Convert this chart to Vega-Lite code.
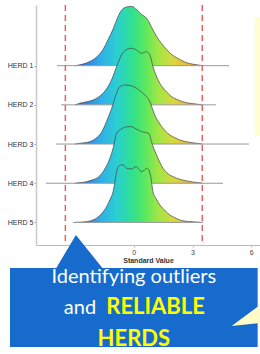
{
  "$schema": "https://vega.github.io/schema/vega-lite/v6.json",
  "width": 224,
  "height": 240,
  "autosize": {"type": "none"},
  "padding": {"left": 36, "top": 5, "right": 0, "bottom": 109},
  "background": "white",
  "config": {
    "view": {"stroke": null},
    "axis": {"grid": false, "labelFont": "Liberation Sans", "titleFont": "Liberation Sans"}
  },
  "datasets": {
    "ridges": [
      {"herd":1,"u":-3.0,"d":0},{"herd":1,"u":-2.6,"d":0.01},{"herd":1,"u":-2.24,"d":0.027},{"herd":1,"u":-1.9,"d":0.055},{"herd":1,"u":-1.58,"d":0.102},{"herd":1,"u":-1.3,"d":0.17},{"herd":1,"u":-1.07,"d":0.23},{"herd":1,"u":-0.85,"d":0.3},{"herd":1,"u":-0.71,"d":0.338},{"herd":1,"u":-0.5,"d":0.368},{"herd":1,"u":-0.3,"d":0.376},{"herd":1,"u":-0.1,"d":0.378},{"herd":1,"u":0.15,"d":0.357},{"herd":1,"u":0.41,"d":0.325},{"herd":1,"u":0.6,"d":0.31},{"herd":1,"u":0.71,"d":0.293},{"herd":1,"u":0.95,"d":0.235},{"herd":1,"u":1.17,"d":0.185},{"herd":1,"u":1.43,"d":0.14},{"herd":1,"u":1.68,"d":0.102},{"herd":1,"u":1.95,"d":0.07},{"herd":1,"u":2.19,"d":0.051},{"herd":1,"u":2.45,"d":0.033},{"herd":1,"u":2.7,"d":0.019},{"herd":1,"u":3.0,"d":0.01},{"herd":1,"u":3.21,"d":0.006},{"herd":1,"u":3.5,"d":0},
      {"herd":2,"u":-3.0,"d":0},{"herd":2,"u":-2.76,"d":0.01},{"herd":2,"u":-2.4,"d":0.02},{"herd":2,"u":-2.08,"d":0.031},{"herd":2,"u":-1.8,"d":0.05},{"herd":2,"u":-1.57,"d":0.074},{"herd":2,"u":-1.35,"d":0.11},{"herd":2,"u":-1.14,"d":0.159},{"herd":2,"u":-0.88,"d":0.244},{"herd":2,"u":-0.63,"d":0.318},{"herd":2,"u":-0.46,"d":0.346},{"herd":2,"u":-0.12,"d":0.361},{"herd":2,"u":0.14,"d":0.35},{"herd":2,"u":0.39,"d":0.329},{"herd":2,"u":0.65,"d":0.339},{"herd":2,"u":0.82,"d":0.318},{"herd":2,"u":0.98,"d":0.244},{"herd":2,"u":1.24,"d":0.159},{"herd":2,"u":1.45,"d":0.115},{"herd":2,"u":1.67,"d":0.084},{"herd":2,"u":1.9,"d":0.055},{"herd":2,"u":2.18,"d":0.036},{"herd":2,"u":2.5,"d":0.02},{"herd":2,"u":2.86,"d":0.01},{"herd":2,"u":3.2,"d":0.005},{"herd":2,"u":3.5,"d":0},
      {"herd":3,"u":-3.0,"d":0},{"herd":3,"u":-2.6,"d":0.007},{"herd":3,"u":-2.24,"d":0.015},{"herd":3,"u":-1.95,"d":0.035},{"herd":3,"u":-1.65,"d":0.075},{"herd":3,"u":-1.39,"d":0.145},{"herd":3,"u":-1.14,"d":0.225},{"herd":3,"u":-0.88,"d":0.324},{"herd":3,"u":-0.71,"d":0.366},{"herd":3,"u":-0.46,"d":0.377},{"herd":3,"u":-0.12,"d":0.371},{"herd":3,"u":0.14,"d":0.356},{"herd":3,"u":0.35,"d":0.335},{"herd":3,"u":0.56,"d":0.313},{"herd":3,"u":0.82,"d":0.27},{"herd":3,"u":1.07,"d":0.185},{"herd":3,"u":1.33,"d":0.128},{"herd":3,"u":1.6,"d":0.085},{"herd":3,"u":1.84,"d":0.058},{"herd":3,"u":2.1,"d":0.04},{"herd":3,"u":2.35,"d":0.026},{"herd":3,"u":2.8,"d":0.012},{"herd":3,"u":3.2,"d":0.005},{"herd":3,"u":3.5,"d":0},
      {"herd":4,"u":-3.0,"d":0},{"herd":4,"u":-2.7,"d":0.004},{"herd":4,"u":-2.41,"d":0.01},{"herd":4,"u":-2.15,"d":0.02},{"herd":4,"u":-1.9,"d":0.032},{"herd":4,"u":-1.57,"d":0.074},{"herd":4,"u":-1.22,"d":0.16},{"herd":4,"u":-1.06,"d":0.223},{"herd":4,"u":-0.88,"d":0.319},{"herd":4,"u":-0.71,"d":0.34},{"herd":4,"u":-0.46,"d":0.357},{"herd":4,"u":-0.29,"d":0.361},{"herd":4,"u":-0.12,"d":0.361},{"herd":4,"u":0.05,"d":0.351},{"herd":4,"u":0.22,"d":0.34},{"herd":4,"u":0.39,"d":0.329},{"herd":4,"u":0.65,"d":0.323},{"herd":4,"u":0.78,"d":0.315},{"herd":4,"u":0.9,"d":0.265},{"herd":4,"u":1.16,"d":0.181},{"herd":4,"u":1.49,"d":0.096},{"herd":4,"u":1.75,"d":0.06},{"herd":4,"u":2.01,"d":0.042},{"herd":4,"u":2.35,"d":0.025},{"herd":4,"u":2.69,"d":0.015},{"herd":4,"u":3.0,"d":0.008},{"herd":4,"u":3.37,"d":0.003},{"herd":4,"u":3.5,"d":0},
      {"herd":5,"u":-3.0,"d":0},{"herd":5,"u":-2.41,"d":0.005},{"herd":5,"u":-2.15,"d":0.013},{"herd":5,"u":-1.9,"d":0.027},{"herd":5,"u":-1.65,"d":0.055},{"herd":5,"u":-1.39,"d":0.101},{"herd":5,"u":-1.22,"d":0.145},{"herd":5,"u":-1.06,"d":0.196},{"herd":5,"u":-0.95,"d":0.27},{"herd":5,"u":-0.88,"d":0.324},{"herd":5,"u":-0.8,"d":0.356},{"herd":5,"u":-0.63,"d":0.367},{"herd":5,"u":-0.55,"d":0.367},{"herd":5,"u":-0.37,"d":0.346},{"herd":5,"u":-0.12,"d":0.341},{"herd":5,"u":0.12,"d":0.356},{"herd":5,"u":0.25,"d":0.34},{"herd":5,"u":0.39,"d":0.324},{"herd":5,"u":0.55,"d":0.335},{"herd":5,"u":0.68,"d":0.346},{"herd":5,"u":0.85,"d":0.303},{"herd":5,"u":0.98,"d":0.196},{"herd":5,"u":1.15,"d":0.15},{"herd":5,"u":1.33,"d":0.112},{"herd":5,"u":1.6,"d":0.075},{"herd":5,"u":1.84,"d":0.048},{"herd":5,"u":2.1,"d":0.03},{"herd":5,"u":2.35,"d":0.016},{"herd":5,"u":2.8,"d":0.006},{"herd":5,"u":3.2,"d":0.002},{"herd":5,"u":3.5,"d":0}
    ],
    "bases": [
      {"herd":1,"lo":-3.93,"hi":4.87},
      {"herd":2,"lo":-3.72,"hi":4.2},
      {"herd":3,"lo":-3.98,"hi":5.89},
      {"herd":4,"lo":-4.49,"hi":4.56},
      {"herd":5,"lo":-3.11,"hi":3.54}
    ],
    "limits": [{"v": -3.5}, {"v": 3.5}],
    "box": [{"x1": -6.33, "x2": 6.33, "y1": 6.163, "y2": 8.179}],
    "panel": [{"x1": 6.17, "x2": 6.8, "y1": -0.244, "y2": 2.768}],
    "pointer": [
      {"u": -4.13, "top": 6.3, "base": 6.3},
      {"u": -2.96, "top": 5.32, "base": 6.3},
      {"u": -1.38, "top": 6.3, "base": 6.3}
    ],
    "wedge": [
      {"u": 5.0, "top": 7.643, "base": 7.643},
      {"u": 6.6, "top": 7.05, "base": 7.56}
    ],
    "whiteText": [
      {"u": 0, "y": 6.545, "t": "Identifying outliers"},
      {"u": -2.75, "y": 7.337, "t": "and"}
    ],
    "yellowText": [
      {"u": 1.11, "y": 7.337, "t": "RELIABLE"},
      {"u": 0, "y": 8.153, "t": "HERDS"}
    ]
  },
  "layer": [
    {
      "layer": [
        {
          "data": {"name": "ridges"},
          "transform": [{"filter": "datum.herd == 1"}],
          "mark": {"type": "area", "interpolate": "monotone", "fill": {"gradient": "linear", "x1": 0, "y1": 0, "x2": 1, "y2": 0, "stops": [{"offset": 0, "color": "#3060d8"}, {"offset": 0.1, "color": "#3388e6"}, {"offset": 0.2, "color": "#31aeea"}, {"offset": 0.33, "color": "#2ad0d0"}, {"offset": 0.45, "color": "#30e090"}, {"offset": 0.55, "color": "#5ae860"}, {"offset": 0.65, "color": "#9fe645"}, {"offset": 0.77, "color": "#d8d83e"}, {"offset": 0.9, "color": "#e8b43a"}, {"offset": 1, "color": "#e8902e"}]}, "fillOpacity": 1, "line": {"color": "#404040", "strokeWidth": 0.7}},
          "encoding": {
            "x": {"field": "u", "type": "quantitative", "scale": {"domain": [-5, 6.45], "nice": false, "zero": false}, "axis": null},
            "y": {"field": "d", "type": "quantitative", "stack": null, "scale": {"domain": [-1.144, 0.387], "nice": false, "zero": false}, "axis": null}
          }
        },
        {
          "data": {"name": "bases"},
          "transform": [{"filter": "datum.herd == 1"}],
          "mark": {"type": "rule", "color": "#999999", "strokeWidth": 1},
          "encoding": {
            "x": {"field": "lo", "type": "quantitative", "scale": {"domain": [-5, 6.45], "nice": false, "zero": false}, "axis": null},
            "x2": {"field": "hi"},
            "y": {"datum": 0, "type": "quantitative", "scale": {"domain": [-1.144, 0.387], "nice": false, "zero": false}, "axis": null}
          }
        }
      ]
    },
    {
      "layer": [
        {
          "data": {"name": "ridges"},
          "transform": [{"filter": "datum.herd == 2"}],
          "mark": {"type": "area", "interpolate": "monotone", "fill": {"gradient": "linear", "x1": 0, "y1": 0, "x2": 1, "y2": 0, "stops": [{"offset": 0, "color": "#3060d8"}, {"offset": 0.1, "color": "#3388e6"}, {"offset": 0.2, "color": "#31aeea"}, {"offset": 0.33, "color": "#2ad0d0"}, {"offset": 0.45, "color": "#30e090"}, {"offset": 0.55, "color": "#5ae860"}, {"offset": 0.65, "color": "#9fe645"}, {"offset": 0.77, "color": "#d8d83e"}, {"offset": 0.9, "color": "#e8b43a"}, {"offset": 1, "color": "#e8902e"}]}, "fillOpacity": 1, "line": {"color": "#404040", "strokeWidth": 0.7}},
          "encoding": {
            "x": {"field": "u", "type": "quantitative", "scale": {"domain": [-5, 6.45], "nice": false, "zero": false}, "axis": null},
            "y": {"field": "d", "type": "quantitative", "stack": null, "scale": {"domain": [-0.894, 0.637], "nice": false, "zero": false}, "axis": null}
          }
        },
        {
          "data": {"name": "bases"},
          "transform": [{"filter": "datum.herd == 2"}],
          "mark": {"type": "rule", "color": "#999999", "strokeWidth": 1},
          "encoding": {
            "x": {"field": "lo", "type": "quantitative", "scale": {"domain": [-5, 6.45], "nice": false, "zero": false}, "axis": null},
            "x2": {"field": "hi"},
            "y": {"datum": 0, "type": "quantitative", "scale": {"domain": [-0.894, 0.637], "nice": false, "zero": false}, "axis": null}
          }
        }
      ]
    },
    {
      "layer": [
        {
          "data": {"name": "ridges"},
          "transform": [{"filter": "datum.herd == 3"}],
          "mark": {"type": "area", "interpolate": "monotone", "fill": {"gradient": "linear", "x1": 0, "y1": 0, "x2": 1, "y2": 0, "stops": [{"offset": 0, "color": "#3060d8"}, {"offset": 0.1, "color": "#3388e6"}, {"offset": 0.2, "color": "#31aeea"}, {"offset": 0.33, "color": "#2ad0d0"}, {"offset": 0.45, "color": "#30e090"}, {"offset": 0.55, "color": "#5ae860"}, {"offset": 0.65, "color": "#9fe645"}, {"offset": 0.77, "color": "#d8d83e"}, {"offset": 0.9, "color": "#e8b43a"}, {"offset": 1, "color": "#e8902e"}]}, "fillOpacity": 1, "line": {"color": "#404040", "strokeWidth": 0.7}},
          "encoding": {
            "x": {"field": "u", "type": "quantitative", "scale": {"domain": [-5, 6.45], "nice": false, "zero": false}, "axis": null},
            "y": {"field": "d", "type": "quantitative", "stack": null, "scale": {"domain": [-0.644, 0.887], "nice": false, "zero": false}, "axis": null}
          }
        },
        {
          "data": {"name": "bases"},
          "transform": [{"filter": "datum.herd == 3"}],
          "mark": {"type": "rule", "color": "#999999", "strokeWidth": 1},
          "encoding": {
            "x": {"field": "lo", "type": "quantitative", "scale": {"domain": [-5, 6.45], "nice": false, "zero": false}, "axis": null},
            "x2": {"field": "hi"},
            "y": {"datum": 0, "type": "quantitative", "scale": {"domain": [-0.644, 0.887], "nice": false, "zero": false}, "axis": null}
          }
        }
      ]
    },
    {
      "layer": [
        {
          "data": {"name": "ridges"},
          "transform": [{"filter": "datum.herd == 4"}],
          "mark": {"type": "area", "interpolate": "monotone", "fill": {"gradient": "linear", "x1": 0, "y1": 0, "x2": 1, "y2": 0, "stops": [{"offset": 0, "color": "#3060d8"}, {"offset": 0.1, "color": "#3388e6"}, {"offset": 0.2, "color": "#31aeea"}, {"offset": 0.33, "color": "#2ad0d0"}, {"offset": 0.45, "color": "#30e090"}, {"offset": 0.55, "color": "#5ae860"}, {"offset": 0.65, "color": "#9fe645"}, {"offset": 0.77, "color": "#d8d83e"}, {"offset": 0.9, "color": "#e8b43a"}, {"offset": 1, "color": "#e8902e"}]}, "fillOpacity": 1, "line": {"color": "#404040", "strokeWidth": 0.7}},
          "encoding": {
            "x": {"field": "u", "type": "quantitative", "scale": {"domain": [-5, 6.45], "nice": false, "zero": false}, "axis": null},
            "y": {"field": "d", "type": "quantitative", "stack": null, "scale": {"domain": [-0.394, 1.137], "nice": false, "zero": false}, "axis": null}
          }
        },
        {
          "data": {"name": "bases"},
          "transform": [{"filter": "datum.herd == 4"}],
          "mark": {"type": "rule", "color": "#999999", "strokeWidth": 1},
          "encoding": {
            "x": {"field": "lo", "type": "quantitative", "scale": {"domain": [-5, 6.45], "nice": false, "zero": false}, "axis": null},
            "x2": {"field": "hi"},
            "y": {"datum": 0, "type": "quantitative", "scale": {"domain": [-0.394, 1.137], "nice": false, "zero": false}, "axis": null}
          }
        }
      ]
    },
    {
      "layer": [
        {
          "data": {"name": "ridges"},
          "transform": [{"filter": "datum.herd == 5"}],
          "mark": {"type": "area", "interpolate": "monotone", "fill": {"gradient": "linear", "x1": 0, "y1": 0, "x2": 1, "y2": 0, "stops": [{"offset": 0, "color": "#3060d8"}, {"offset": 0.1, "color": "#3388e6"}, {"offset": 0.2, "color": "#31aeea"}, {"offset": 0.33, "color": "#2ad0d0"}, {"offset": 0.45, "color": "#30e090"}, {"offset": 0.55, "color": "#5ae860"}, {"offset": 0.65, "color": "#9fe645"}, {"offset": 0.77, "color": "#d8d83e"}, {"offset": 0.9, "color": "#e8b43a"}, {"offset": 1, "color": "#e8902e"}]}, "fillOpacity": 1, "line": {"color": "#404040", "strokeWidth": 0.7}},
          "encoding": {
            "x": {"field": "u", "type": "quantitative", "scale": {"domain": [-5, 6.45], "nice": false, "zero": false}, "axis": null},
            "y": {"field": "d", "type": "quantitative", "stack": null, "scale": {"domain": [-0.144, 1.387], "nice": false, "zero": false}, "axis": null}
          }
        },
        {
          "data": {"name": "bases"},
          "transform": [{"filter": "datum.herd == 5"}],
          "mark": {"type": "rule", "color": "#999999", "strokeWidth": 1},
          "encoding": {
            "x": {"field": "lo", "type": "quantitative", "scale": {"domain": [-5, 6.45], "nice": false, "zero": false}, "axis": null},
            "x2": {"field": "hi"},
            "y": {"datum": 0, "type": "quantitative", "scale": {"domain": [-0.144, 1.387], "nice": false, "zero": false}, "axis": null}
          }
        }
      ]
    },
    {
      "layer": [
        {
          "data": {"name": "limits"},
          "mark": {"type": "rule", "color": "#e46464", "strokeDash": [6, 4], "strokeWidth": 1.5},
          "encoding": {
            "x": {"field": "v", "type": "quantitative", "scale": {"domain": [-5, 6.45], "nice": false, "zero": false}, "axis": null}
          }
        },
        {
          "data": {"name": "box"},
          "mark": {"type": "rect", "color": "#176bcc"},
          "encoding": {
            "x": {"field": "x1", "type": "quantitative", "scale": {"domain": [-5, 6.45], "nice": false, "zero": false}, "axis": null},
            "x2": {"field": "x2"},
            "y": {"field": "y1", "type": "quantitative", "scale": {"domain": [-0.55, 5.575], "reverse": true, "nice": false, "zero": false}, "axis": null},
            "y2": {"field": "y2"}
          }
        },
        {
          "data": {"name": "pointer"},
          "mark": {"type": "area", "color": "#176bcc", "interpolate": "linear"},
          "encoding": {
            "x": {"field": "u", "type": "quantitative", "scale": {"domain": [-5, 6.45], "nice": false, "zero": false}, "axis": null},
            "y": {"field": "top", "type": "quantitative", "scale": {"domain": [-0.55, 5.575], "reverse": true, "nice": false, "zero": false}, "axis": null},
            "y2": {"field": "base"}
          }
        },
        {
          "data": {"name": "wedge"},
          "mark": {"type": "area", "color": "#FFFBC8", "interpolate": "linear"},
          "encoding": {
            "x": {"field": "u", "type": "quantitative", "scale": {"domain": [-5, 6.45], "nice": false, "zero": false}, "axis": null},
            "y": {"field": "top", "type": "quantitative", "scale": {"domain": [-0.55, 5.575], "reverse": true, "nice": false, "zero": false}, "axis": null},
            "y2": {"field": "base"}
          }
        },
        {
          "data": {"name": "whiteText"},
          "mark": {"type": "text", "color": "#ffffff", "font": "Lato", "fontSize": 20, "align": "center", "baseline": "alphabetic"},
          "encoding": {
            "x": {"field": "u", "type": "quantitative", "scale": {"domain": [-5, 6.45], "nice": false, "zero": false}, "axis": null},
            "y": {"field": "y", "type": "quantitative", "scale": {"domain": [-0.55, 5.575], "reverse": true, "nice": false, "zero": false}, "axis": null},
            "text": {"field": "t"}
          }
        },
        {
          "data": {"name": "yellowText"},
          "mark": {"type": "text", "color": "#ffff00", "font": "Lato", "fontSize": 22, "fontWeight": "bold", "align": "center", "baseline": "alphabetic"},
          "encoding": {
            "x": {"field": "u", "type": "quantitative", "scale": {"domain": [-5, 6.45], "nice": false, "zero": false}, "axis": null},
            "y": {"field": "y", "type": "quantitative", "scale": {"domain": [-0.55, 5.575], "reverse": true, "nice": false, "zero": false}, "axis": null},
            "text": {"field": "t"}
          }
        }
      ]
    },
    {
      "data": {"name": "panel"},
      "mark": {"type": "rect", "color": "#FFFDD4"},
      "encoding": {
        "x": {"field": "x1", "type": "quantitative", "title": "Standard Value", "scale": {"domain": [-5, 6.45], "nice": false, "zero": false}, "axis": {"title": "Standard Value", "orient": "bottom", "values": [-3, 0, 3, 6], "format": "d", "labelFontSize": 7, "labelColor": "#444444", "domain": true, "domainColor": "#bbbbbb", "domainWidth": 1, "ticks": true, "tickColor": "#bbbbbb", "tickSize": 2, "labelPadding": 1, "labelFlush": false, "titleFontSize": 7, "titleFontWeight": "bold", "titleColor": "#333333", "titlePadding": 1, "zindex": 0}},
        "x2": {"field": "x2"},
        "y": {"field": "y1", "type": "quantitative", "scale": {"domain": [-0.55, 5.575], "reverse": true, "nice": false, "zero": false}, "axis": {"title": null, "orient": "left", "values": [1, 2, 3, 4, 5], "labelExpr": "'HERD ' + datum.value", "labelFontSize": 7, "labelColor": "#333333", "domain": true, "domainColor": "#c8c8c8", "domainWidth": 1.5, "ticks": true, "tickColor": "#999999", "tickSize": 2, "labelPadding": 1, "zindex": 0}},
        "y2": {"field": "y2"}
      }
    }
  ],
  "resolve": {"scale": {"y": "independent"}, "axis": {"x": "independent", "y": "independent"}}
}
